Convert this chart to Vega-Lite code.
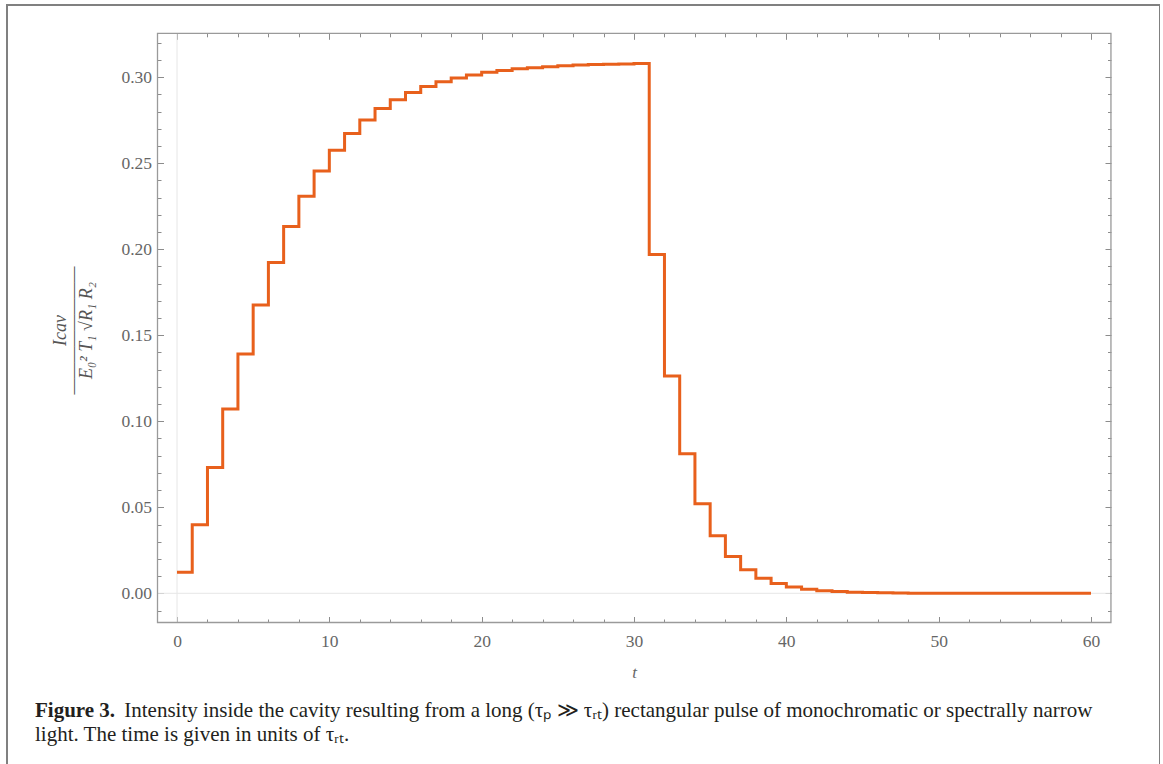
{
  "$schema": "https://vega.github.io/schema/vega-lite/v6.json",
  "width": 1153,
  "height": 765,
  "autosize": {"type": "none"},
  "padding": {"left": 7, "top": 5, "right": 0, "bottom": 0},
  "background": "white",
  "config": {
    "font": "Liberation Serif",
    "view": {"stroke": "#808080", "strokeWidth": 2}
  },
  "title": {
    "text": "Figure 3.",
    "subtitle": ["\u200b\u00a0\u00a0\u00a0\u00a0\u00a0\u00a0\u00a0\u00a0\u00a0\u00a0\u00a0\u00a0\u00a0\u00a0\u00a0\u00a0\u00a0Intensity inside the cavity resulting from a long (τₚ ≫ τᵣₜ) rectangular pulse of monochromatic or spectrally narrow", "light. The time is given in units of τᵣₜ."],
    "orient": "bottom",
    "anchor": "start",
    "frame": "group",
    "offset": -70,
    "dx": 28,
    "font": "Liberation Serif",
    "fontSize": 21,
    "fontWeight": "bold",
    "color": "#231f20",
    "subtitleFont": "Liberation Serif",
    "subtitleFontSize": 21,
    "subtitleColor": "#231f20",
    "subtitlePadding": -21,
    "subtitleLineHeight": 24
  },
  "data": {"values": [
    {"t": 0, "v": 0.0122}, {"t": 1, "v": 0.0398}, {"t": 2, "v": 0.0731}, {"t": 3, "v": 0.1071},
    {"t": 4, "v": 0.1391}, {"t": 5, "v": 0.1676}, {"t": 6, "v": 0.1923}, {"t": 7, "v": 0.2133},
    {"t": 8, "v": 0.2309}, {"t": 9, "v": 0.2455}, {"t": 10, "v": 0.2576}, {"t": 11, "v": 0.2673},
    {"t": 12, "v": 0.2752}, {"t": 13, "v": 0.2818}, {"t": 14, "v": 0.2870}, {"t": 15, "v": 0.2912},
    {"t": 16, "v": 0.2947}, {"t": 17, "v": 0.2974}, {"t": 18, "v": 0.2996}, {"t": 19, "v": 0.3014},
    {"t": 20, "v": 0.3029}, {"t": 21, "v": 0.3040}, {"t": 22, "v": 0.3049}, {"t": 23, "v": 0.3056},
    {"t": 24, "v": 0.3062}, {"t": 25, "v": 0.3067}, {"t": 26, "v": 0.3071}, {"t": 27, "v": 0.3074},
    {"t": 28, "v": 0.3076}, {"t": 29, "v": 0.3078}, {"t": 30, "v": 0.3080}, {"t": 31, "v": 0.1970},
    {"t": 32, "v": 0.1264}, {"t": 33, "v": 0.0811}, {"t": 34, "v": 0.0520}, {"t": 35, "v": 0.0334},
    {"t": 36, "v": 0.0214}, {"t": 37, "v": 0.0137}, {"t": 38, "v": 0.0088}, {"t": 39, "v": 0.0057},
    {"t": 40, "v": 0.0036}, {"t": 41, "v": 0.0023}, {"t": 42, "v": 0.0015}, {"t": 43, "v": 0.0010},
    {"t": 44, "v": 0.0006}, {"t": 45, "v": 0.0004}, {"t": 46, "v": 0.0003}, {"t": 47, "v": 0.0002},
    {"t": 48, "v": 0.0001}, {"t": 49, "v": 0.0001}, {"t": 50, "v": 0.0}, {"t": 51, "v": 0.0},
    {"t": 52, "v": 0.0}, {"t": 53, "v": 0.0}, {"t": 54, "v": 0.0}, {"t": 55, "v": 0.0},
    {"t": 56, "v": 0.0}, {"t": 57, "v": 0.0}, {"t": 58, "v": 0.0}, {"t": 59, "v": 0.0},
    {"t": 60, "v": 0.0}
  ]},
  "resolve": {"axis": {"x": "independent", "y": "independent"}},
  "layer": [
    {
      "data": {"values": [{}]},
      "mark": {"type": "rule", "color": "#e6e6e6", "strokeWidth": 1},
      "encoding": {
        "x": {"datum": 0, "type": "quantitative", "scale": {"domain": [-11.16, 64.53], "nice": false, "zero": false},
          "axis": {"orient": "bottom", "offset": -147.5, "values": [0,2,4,6,8,12,14,16,18,22,24,26,28,32,34,36,38,42,44,46,48,52,54,56,58], "domain": false, "grid": false, "labels": false, "title": null, "tickSize": -3.5, "tickColor": "#8c8c8c", "tickWidth": 1}},
        "y": {"datum": -0.01698, "type": "quantitative", "scale": {"domain": [-0.10273, 0.34203], "nice": false, "zero": false},
          "axis": {"orient": "left", "offset": -150.5, "values": [-0.01,0.01,0.02,0.03,0.04,0.06,0.07,0.08,0.09,0.11,0.12,0.13,0.14,0.16,0.17,0.18,0.19,0.21,0.22,0.23,0.24,0.26,0.27,0.28,0.29,0.31,0.32], "domain": false, "grid": false, "labels": false, "title": null, "tickSize": -3.5, "tickColor": "#8c8c8c", "tickWidth": 1}},
        "y2": {"datum": 0.32558}
      }
    },
    {
      "data": {"values": [{}]},
      "mark": {"type": "rule", "color": "#e6e6e6", "strokeWidth": 1},
      "encoding": {
        "x": {"datum": -1.28, "type": "quantitative", "scale": {"domain": [-11.16, 64.53], "nice": false, "zero": false},
          "axis": {"orient": "top", "offset": -28.3, "values": [0,2,4,6,8,12,14,16,18,22,24,26,28,32,34,36,38,42,44,46,48,52,54,56,58], "domain": false, "grid": false, "labels": false, "title": null, "tickSize": -3.5, "tickColor": "#8c8c8c", "tickWidth": 1}},
        "x2": {"datum": 61.31},
        "y": {"datum": 0, "type": "quantitative", "scale": {"domain": [-0.10273, 0.34203], "nice": false, "zero": false},
          "axis": {"orient": "right", "offset": -49, "values": [-0.01,0.01,0.02,0.03,0.04,0.06,0.07,0.08,0.09,0.11,0.12,0.13,0.14,0.16,0.17,0.18,0.19,0.21,0.22,0.23,0.24,0.26,0.27,0.28,0.29,0.31,0.32], "domain": false, "grid": false, "labels": false, "title": null, "tickSize": -3.5, "tickColor": "#8c8c8c", "tickWidth": 1}}
      }
    },
    {
      "data": {"values": [{}]},
      "mark": {"type": "rect", "filled": false, "stroke": "#9a9a9a", "strokeWidth": 1.3},
      "encoding": {
        "x": {"datum": -1.28, "type": "quantitative", "scale": {"domain": [-11.16, 64.53], "nice": false, "zero": false},
          "axis": {"orient": "top", "offset": -28.3, "values": [0,10,20,30,40,50,60], "domain": false, "grid": false, "labels": false, "title": null, "tickSize": -6, "tickColor": "#8c8c8c", "tickWidth": 1}},
        "x2": {"datum": 61.31},
        "y": {"datum": 0.32558, "type": "quantitative", "scale": {"domain": [-0.10273, 0.34203], "nice": false, "zero": false},
          "axis": {"orient": "right", "offset": -49, "values": [0,0.05,0.1,0.15,0.2,0.25,0.3], "domain": false, "grid": false, "labels": false, "title": null, "tickSize": -6, "tickColor": "#8c8c8c", "tickWidth": 1}},
        "y2": {"datum": -0.01698}
      }
    },
    {
      "mark": {"type": "line", "interpolate": "step-after", "color": "#E8601C", "strokeWidth": 3, "strokeJoin": "miter"},
      "encoding": {
        "x": {"field": "t", "type": "quantitative", "scale": {"domain": [-11.16, 64.53], "nice": false, "zero": false},
          "axis": {"orient": "bottom", "offset": -147.5, "values": [0,10,20,30,40,50,60], "format": "d", "domain": false, "grid": false, "tickSize": -6, "tickColor": "#8c8c8c", "tickWidth": 1,
            "labelFont": "Liberation Serif", "labelFontSize": 17.5, "labelColor": "#666666", "labelPadding": 16,
            "title": "t", "titleFont": "Liberation Serif", "titleFontStyle": "italic", "titleFontWeight": "normal", "titleFontSize": 17, "titleColor": "#666666",
            "titleX": 627, "titleY": 55, "titleBaseline": "alphabetic", "titleAlign": "center"}},
        "y": {"field": "v", "type": "quantitative", "scale": {"domain": [-0.10273, 0.34203], "nice": false, "zero": false},
          "axis": {"orient": "left", "offset": -150.5, "values": [0,0.05,0.1,0.15,0.2,0.25,0.3], "format": ".2f", "domain": false, "grid": false, "tickSize": -6, "tickColor": "#8c8c8c", "tickWidth": 1,
            "labelFont": "Liberation Serif", "labelFontSize": 17.5, "labelColor": "#666666", "labelPadding": 12,
            "title": ["Icav", "————————", "E₀² T₁ √R₁ R₂"], "titleFont": "Liberation Serif", "titleFontStyle": "italic", "titleFontWeight": "normal", "titleFontSize": 18, "titleColor": "#555555",
            "titleAngle": 270, "titleX": -97, "titleY": 325, "titleAlign": "center", "titleBaseline": "middle", "titleLineHeight": 13}}
      }
    }
  ]
}
